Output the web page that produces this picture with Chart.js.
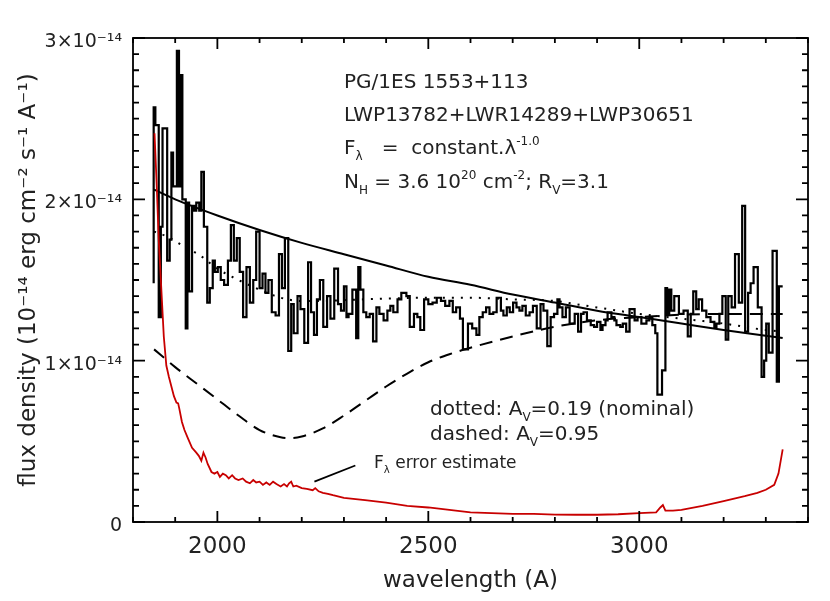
<!DOCTYPE html>
<html>
<head>
<meta charset="utf-8">
<script src="https://cdn.jsdelivr.net/npm/chart.js@4.4.1/dist/chart.umd.min.js"></script>
<style>
  html, body { margin: 0; padding: 0; background: #fff; }
  canvas { display: block; }
</style>
</head>
<body>
<canvas id="c" width="830" height="601"></canvas>
<script>
// flux values are in units of 1e-14 erg cm-2 s-1 A-1
const xMin = 1800, xMax = 3400;
const xTicks = [2000, 2500, 3000];
const yTicks = [0, 1, 2, 3];

// observed spectrum, histogram (left bin edge -> flux)
const specWave = [
  1849,1853,1861,1866,1870,1881,1887,1891,1895,1904,1909,1914,1917,1925,1929,1933,1940,1945,1950,1957,1962,1968,1976,1982,1989,1994,
  2001,2008,2016,2025,2032,2039,2046,2053,2061,2069,2077,2085,2092,2100,2107,2114,2121,2129,2138,2146,2153,2160,2168,2175,2181,2190,2197,2206,2215,2222,2229,2236,2243,2251,2260,2268,2277,2286,2293,
  2300,2306,2311,2320,2329,2334,2339,2346,2353,2361,2369,2377,2384,2394,2403,2410,2417,2427,2436,2448,2456,2466,2474,2481,2490,2500,2510,2520,2530,2540,2550,2558,2566,2575,2582,2594,2604,2614,2621,2629,2637,2645,2654,2662,2672,2678,2686,2693,2701,2709,2716,2723,2731,2740,2748,2757,2766,2773,2782,2790,2798,2806,2811,2818,2826,
  2835,2847,2855,2862,2868,2876,2885,2893,2900,2908,2913,2920,2925,2934,2941,2946,2955,2961,2969,2977,2989,2996,3005,3017,3024,3031,3038,3043,3054,3062,3066,3071,3076,3083,3094,3105,3115,3122,3128,3135,3141,3149,3159,3169,3178,3183,3190,3197,3205,3211,3219,3227,3236,3244,3251,3258,3264,3271,3281,3290,3296,3301,3307,3316,3326,3331,3336,3340
];
const specFlux = [
  1.48,2.57,2.46,1.27,1.83,2.44,1.62,1.75,2.29,2.08,2.92,2.08,2.77,2.00,1.20,1.98,1.43,1.96,1.93,1.98,1.93,2.17,1.83,1.36,1.45,1.62,
  1.55,1.58,1.50,1.47,1.62,1.84,1.62,1.76,1.55,1.27,1.58,1.36,1.50,1.80,1.45,1.54,1.42,1.50,1.30,1.28,1.66,1.45,1.76,1.06,1.35,1.17,1.40,1.32,1.11,1.61,1.30,1.16,1.38,1.50,1.21,1.40,1.26,1.57,1.35,
  1.31,1.46,1.27,1.29,1.44,1.14,1.58,1.44,1.30,1.27,1.29,1.12,1.33,1.29,1.25,1.31,1.34,1.30,1.38,1.42,1.40,1.21,1.29,1.27,1.19,1.38,1.35,1.36,1.39,1.37,1.34,1.37,1.30,1.33,1.26,1.07,1.23,1.20,1.16,1.27,1.30,1.33,1.29,1.30,1.39,1.31,1.28,1.33,1.30,1.36,1.33,1.31,1.34,1.28,1.30,1.34,1.20,1.35,1.31,1.09,1.27,1.29,1.38,1.33,1.27,
  1.33,1.23,1.29,1.18,1.29,1.30,1.25,1.22,1.21,1.24,1.19,1.22,1.25,1.30,1.27,1.25,1.22,1.21,1.23,1.18,1.32,1.25,1.27,1.23,1.25,1.27,1.22,1.17,0.79,0.94,1.45,1.29,1.44,1.31,1.40,1.29,1.31,1.15,1.29,1.43,1.32,1.38,1.31,1.27,1.24,1.21,1.23,1.29,1.40,1.13,1.40,1.33,1.66,1.36,1.96,1.18,1.42,1.48,1.58,1.33,0.90,1.00,1.23,1.05,1.68,0.87,1.46,1.46
];

// unreddened power law F = const * lambda^-1 (solid)
const solidWave = [1850,1900,2000,2100,2200,2300,2400,2500,2600,2700,2800,2900,3000,3100,3200,3300,3340];
const solidFlux = [2.06,2.00,1.90,1.81,1.73,1.66,1.59,1.52,1.47,1.41,1.36,1.31,1.27,1.23,1.19,1.155,1.14];

// reddened, Av = 0.19 (dotted)
const dotWave = [1850,1880,1920,1960,2000,2050,2100,2150,2200,2250,2300,2400,2500,2600,2700,2800,2850,2900,3000,3100,3200,3300,3340];
const dotFlux = [1.80,1.77,1.71,1.65,1.57,1.50,1.44,1.39,1.37,1.37,1.375,1.385,1.39,1.39,1.38,1.37,1.35,1.33,1.29,1.26,1.23,1.19,1.18];

// reddened, Av = 0.95 (dashed)
const dashWave = [1850,1900,1950,2000,2050,2100,2150,2175,2200,2250,2300,2350,2400,2450,2500,2550,2600,2700,2800,2900,3000,3100,3200,3300,3340];
const dashFlux = [1.07,0.96,0.86,0.76,0.66,0.57,0.525,0.52,0.53,0.58,0.66,0.75,0.84,0.92,0.99,1.04,1.08,1.15,1.21,1.25,1.27,1.285,1.29,1.29,1.29];

// error estimate (red)
const errWave = [1851,1856,1861,1867,1873,1879,1885,1891,1897,1903,1907,1910,1916,1922,1930,1940,1950,1956,1962,1967,1972,1977,1986,1993,2000,2006,2013,2020,2027,2035,2042,2050,2060,2068,2077,2085,2092,2100,2108,2116,2124,2132,2140,2150,2158,2165,2170,2175,2180,2187,2200,2212,2226,2232,2240,2250,2262,2274,2300,2350,2400,2450,2500,2550,2600,2650,2700,2750,2800,2850,2900,2950,3000,3040,3050,3056,3062,3080,3100,3150,3200,3250,3280,3300,3320,3330,3340];
const errFlux = [2.41,2.10,1.75,1.45,1.15,0.97,0.90,0.84,0.78,0.74,0.735,0.70,0.62,0.57,0.52,0.46,0.43,0.41,0.38,0.43,0.40,0.36,0.31,0.30,0.31,0.28,0.30,0.29,0.27,0.29,0.27,0.26,0.27,0.25,0.24,0.26,0.245,0.25,0.23,0.245,0.23,0.25,0.235,0.22,0.235,0.22,0.24,0.25,0.22,0.225,0.21,0.205,0.197,0.21,0.19,0.18,0.175,0.166,0.15,0.135,0.12,0.10,0.09,0.075,0.06,0.055,0.05,0.05,0.046,0.045,0.045,0.048,0.055,0.06,0.09,0.105,0.07,0.07,0.075,0.10,0.13,0.16,0.18,0.20,0.23,0.30,0.45];

const FONT = "'DejaVu Sans', 'Liberation Sans', sans-serif";
const INK = '#222';
const pairs = (xs, ys) => xs.map((x, i) => ({ x, y: ys[i] }));

// small rich-text writer: [text, 'n' | 'b' (subscript) | 'p' (superscript)]
function rich(ctx, x, y, parts, size) {
  let cx = x;
  for (const [t, m] of parts) {
    const s = m === 'n' ? size : size * 0.6;
    const dy = m === 'b' ? size * 0.3 : m === 'p' ? -size * 0.45 : 0;
    ctx.font = s + 'px ' + FONT;
    ctx.fillText(t, cx, y + dy);
    cx += ctx.measureText(t).width;
  }
}

const frame = {
  id: 'frame',
  afterDatasetsDraw(chart) {
    const { ctx, chartArea: a, scales: { x, y } } = chart;
    ctx.save();
    ctx.strokeStyle = '#000';
    ctx.lineWidth = 1.8;
    ctx.strokeRect(a.left, a.top, a.right - a.left, a.bottom - a.top);
    ctx.beginPath();
    for (let v = xMin; v <= xMax; v += 100) {
      const px = x.getPixelForValue(v), len = v % 500 === 0 ? 11 : 5;
      ctx.moveTo(px, a.bottom); ctx.lineTo(px, a.bottom - len);
      ctx.moveTo(px, a.top); ctx.lineTo(px, a.top + len);
    }
    for (let i = 0; i <= 30; i++) {
      const py = y.getPixelForValue(i / 10), len = i % 10 === 0 ? 12 : 6;
      ctx.moveTo(a.left, py); ctx.lineTo(a.left + len, py);
      ctx.moveTo(a.right, py); ctx.lineTo(a.right - len, py);
    }
    ctx.stroke();

    // annotations
    ctx.fillStyle = INK;
    ctx.textBaseline = 'alphabetic';
    const fs = 20;
    rich(ctx, 344, 88, [['PG/1ES 1553+113', 'n']], fs);
    rich(ctx, 344, 121, [['LWP13782+LWR14289+LWP30651', 'n']], fs);
    rich(ctx, 344, 154, [['F', 'n'], ['λ', 'b'], ['   =  constant.λ', 'n'], ['-1.0', 'p']], fs);
    rich(ctx, 344, 188, [['N', 'n'], ['H', 'b'], [' = 3.6 10', 'n'], ['20', 'p'], [' cm', 'n'], ['-2', 'p'], ['; R', 'n'], ['V', 'b'], ['=3.1', 'n']], fs);
    rich(ctx, 430, 415, [['dotted: A', 'n'], ['V', 'b'], ['=0.19 (nominal)', 'n']], fs);
    rich(ctx, 430, 440, [['dashed: A', 'n'], ['V', 'b'], ['=0.95', 'n']], fs);
    rich(ctx, 374, 468, [['F', 'n'], ['λ', 'b'], [' error estimate', 'n']], 17);
    ctx.beginPath();
    ctx.lineWidth = 1.8;
    ctx.moveTo(x.getPixelForValue(2230), y.getPixelForValue(0.25));
    ctx.lineTo(x.getPixelForValue(2327), y.getPixelForValue(0.35));
    ctx.stroke();
    ctx.restore();
  }
};

new Chart(document.getElementById('c'), {
  type: 'line',
  data: {
    datasets: [
      {
        data: pairs(errWave, errFlux),
        borderColor: '#c80000', borderWidth: 1.8,
        pointRadius: 0, tension: 0
      },
      {
        data: pairs(specWave, specFlux),
        borderColor: '#000', borderWidth: 2.2,
        pointRadius: 0, stepped: 'after'
      },
      {
        data: pairs(solidWave, solidFlux),
        borderColor: '#000', borderWidth: 2,
        pointRadius: 0, cubicInterpolationMode: 'monotone'
      },
      {
        data: pairs(dotWave, dotFlux),
        borderColor: '#000', borderWidth: 2, borderDash: [2, 7],
        pointRadius: 0, cubicInterpolationMode: 'monotone'
      },
      {
        data: pairs(dashWave, dashFlux),
        borderColor: '#000', borderWidth: 2, borderDash: [13, 8],
        pointRadius: 0, cubicInterpolationMode: 'monotone'
      }
    ]
  },
  options: {
    responsive: false, animation: false,
    layout: { padding: { top: 38, right: 22, left: 0, bottom: 0 } },
    plugins: { legend: { display: false }, tooltip: { enabled: false } },
    scales: {
      x: {
        type: 'linear', min: xMin, max: xMax,
        grid: { display: false, drawTicks: false }, border: { display: false },
        afterBuildTicks: s => { s.ticks = xTicks.map(v => ({ value: v })); },
        afterFit: s => { s.height = 79; },
        ticks: { color: INK, font: { family: FONT, size: 23 }, padding: 11, maxRotation: 0, autoSkip: false, callback: v => String(v) },
        title: { display: true, text: 'wavelength (A)', color: INK, font: { family: FONT, size: 23 }, padding: { bottom: 6 } }
      },
      y: {
        type: 'linear', min: 0, max: 3,
        grid: { display: false, drawTicks: false }, border: { display: false },
        afterBuildTicks: s => { s.ticks = yTicks.map(v => ({ value: v })); },
        afterFit: s => { s.width = 133; },
        ticks: { color: INK, font: { family: FONT, size: 19 }, padding: 11, labelOffset: 4,
                 callback: v => v === 0 ? '0' : v + '×10⁻¹⁴' },
        title: { display: true, text: 'flux density (10⁻¹⁴ erg cm⁻² s⁻¹ A⁻¹)', color: INK, font: { family: FONT, size: 23 }, padding: { top: 15 } }
      }
    }
  },
  plugins: [frame]
});
</script>
</body>
</html>
